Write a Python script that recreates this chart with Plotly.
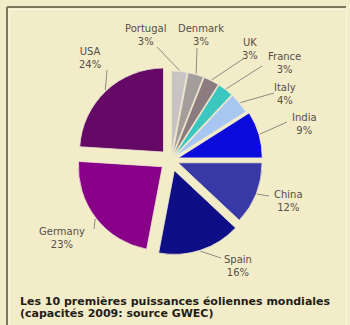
import math
import plotly.graph_objects as go

# Installed wind capacity share, 2009 (GWEC)
countries = ["Portugal", "Denmark", "UK", "France", "Italy",
             "India", "China", "Spain", "Germany", "USA"]
shares = [3, 3, 3, 3, 4, 9, 12, 16, 23, 24]

slice_colors = ["#c9c4c4", "#a39e9c", "#8c7c80", "#3cc6c0", "#a8c6f2",
                "#0b0bdc", "#3838a6", "#0e0e86", "#870087", "#640a66"]
slice_pull = [0.06, 0.06, 0.06, 0.06, 0.06, 0.09, 0.09, 0.13, 0.13, 0.13]

caption = ["Les 10 premières puissances éoliennes mondiales",
           "(capacités 2009: source GWEC)"]

W, H = 350, 325
BG = "#f3ecc9"

# pie geometry in pixels
CX, CY, R = 171, 160, 84
half = R * (1 + max(slice_pull))
dom_x = [(CX - half) / W, (CX + half) / W]
dom_y = [1 - (CY + half) / H, 1 - (CY - half) / H]


def px(x, y):
    return x / W, 1 - y / H


# label placement (name line centre) and leader-line end next to the label
label_at = {
    "Portugal": (145, 35), "Denmark": (201, 35), "UK": (250, 49),
    "France": (284, 63), "Italy": (285, 94), "India": (304, 124),
    "China": (288, 201), "Spain": (238, 266), "Germany": (62, 238),
    "USA": (90, 58),
}
line_end = {
    "Portugal": (157, 47), "Denmark": (197, 48), "UK": (243, 59),
    "France": (262, 66), "Italy": (274, 93), "India": (287, 122),
    "China": (269, 196), "Spain": (221, 258), "Germany": (94, 229),
    "USA": (107, 70),
}

fig = go.Figure(go.Pie(
    labels=countries,
    values=shares,
    sort=False,
    direction="clockwise",
    rotation=0,
    pull=slice_pull,
    marker=dict(colors=slice_colors, line=dict(color="#efe8d0", width=0.8)),
    textinfo="none",
    hoverinfo="label+percent",
    domain=dict(x=dom_x, y=dom_y),
    showlegend=False,
))

shapes = []
annotations = []
total = sum(shares)
cum = 0.0
for name, val, pull in zip(countries, shares, slice_pull):
    mid = (cum + val / 2) / total * 2 * math.pi
    cum += val
    dx, dy = math.sin(mid), -math.cos(mid)
    rr = R * (1 + pull) + 1
    ax, ay = CX + dx * rr, CY + dy * rr
    ex, ey = line_end[name]
    x0, y0 = px(ax, ay)
    x1, y1 = px(ex, ey)
    shapes.append(dict(type="line", xref="paper", yref="paper",
                       x0=x0, y0=y0, x1=x1, y1=y1,
                       line=dict(color="#8e8a80", width=1)))
    lx, ly = label_at[name]
    tx, ty = px(lx, ly)
    annotations.append(dict(
        text=f"{name}<br>{val}%", x=tx, y=ty, xref="paper", yref="paper",
        xanchor="center", yanchor="middle", showarrow=False, align="center",
        font=dict(family="DejaVu Sans", size=10, color="#555048"),
    ))

# caption under the pie
for i, line in enumerate(caption):
    tx, ty = px(18, 301 + 12 * i)
    annotations.append(dict(
        text=f"<b>{line}</b>", x=tx, y=ty, xref="paper", yref="paper",
        xanchor="left", yanchor="middle", showarrow=False,
        font=dict(family="DejaVu Sans", size=11, color="#1f1d18"),
    ))

# bevelled frame: dark top/left edges, light inner and right edges
frame = [
    ((7, 7), (346, 7), "#7f775a", 2),
    ((7, 7), (7, 325), "#7f775a", 2),
    ((9, 9.5), (345, 9.5), "#fbf6e2", 1),
    ((9.5, 9), (9.5, 325), "#fbf6e2", 1),
    ((346.5, 8), (346.5, 325), "#fbf6e2", 1),
]
for (a, b, c, w) in frame:
    x0, y0 = px(*a)
    x1, y1 = px(*b)
    shapes.append(dict(type="line", xref="paper", yref="paper",
                       x0=x0, y0=y0, x1=x1, y1=y1,
                       line=dict(color=c, width=w)))

fig.update_layout(
    width=W, height=H,
    margin=dict(l=0, r=0, t=0, b=0),
    paper_bgcolor=BG, plot_bgcolor=BG,
    shapes=shapes, annotations=annotations,
)

fig.write_html("out.html")
